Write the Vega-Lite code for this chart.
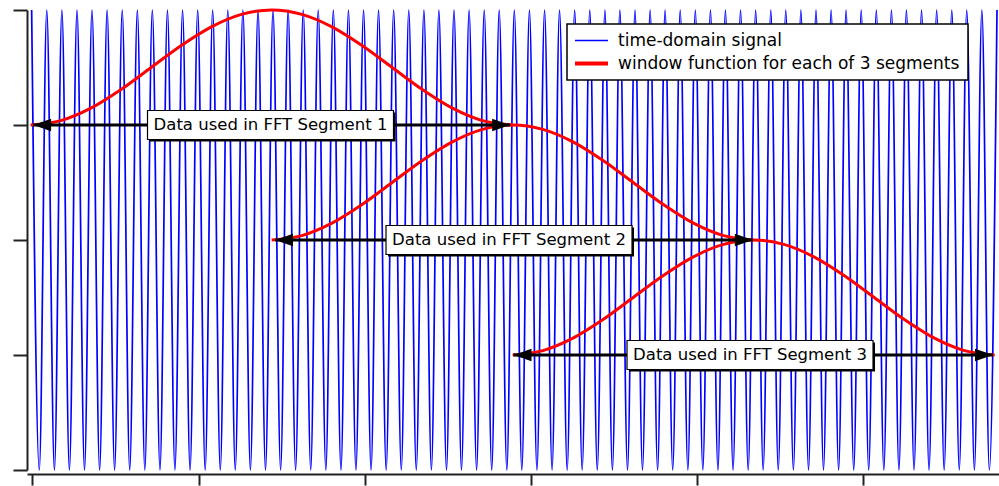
{
"$schema": "https://vega.github.io/schema/vega-lite/v6.json",
"width": 972, "height": 460,
"autosize": {"type": "none"},
"padding": {"left": 27, "top": 10, "right": 0, "bottom": 16},
"background": "white",
"config": {"view": {"stroke": null}, "axis": {"labels": false, "grid": false, "domainColor": "#222", "tickColor": "#222", "domainWidth": 2, "tickWidth": 2, "titlePadding": 0}, "axisX": {"tickSize": 11, "offset": 4}, "axisY": {"tickSize": 14}},
"datasets": {
"signal": [{"x":-0.4,"y":2},{"x":4.2,"y":-2},{"x":8.7,"y":2},{"x":13.3,"y":-2},{"x":17.8,"y":2},{"x":22.3,"y":-2},{"x":26.9,"y":2},{"x":31.4,"y":-2},{"x":35.9,"y":2},{"x":40.5,"y":-2},{"x":45.0,"y":2},{"x":49.5,"y":-2},{"x":54.1,"y":2},{"x":58.6,"y":-2},{"x":63.2,"y":2},{"x":67.7,"y":-2},{"x":72.2,"y":2},{"x":76.8,"y":-2},{"x":81.3,"y":2},{"x":85.8,"y":-2},{"x":90.4,"y":2},{"x":94.9,"y":-2},{"x":99.5,"y":2},{"x":104.0,"y":-2},{"x":108.5,"y":2},{"x":113.1,"y":-2},{"x":117.6,"y":2},{"x":122.1,"y":-2},{"x":126.7,"y":2},{"x":131.2,"y":-2},{"x":135.8,"y":2},{"x":140.3,"y":-2},{"x":144.8,"y":2},{"x":149.4,"y":-2},{"x":153.9,"y":2},{"x":158.4,"y":-2},{"x":163.0,"y":2},{"x":167.5,"y":-2},{"x":172.0,"y":2},{"x":176.6,"y":-2},{"x":181.1,"y":2},{"x":185.7,"y":-2},{"x":190.2,"y":2},{"x":194.7,"y":-2},{"x":199.3,"y":2},{"x":203.8,"y":-2},{"x":208.3,"y":2},{"x":212.9,"y":-2},{"x":217.4,"y":2},{"x":222.0,"y":-2},{"x":226.5,"y":2},{"x":231.0,"y":-2},{"x":235.6,"y":2},{"x":240.1,"y":-2},{"x":244.6,"y":2},{"x":249.2,"y":-2},{"x":253.7,"y":2},{"x":258.2,"y":-2},{"x":262.8,"y":2},{"x":267.3,"y":-2},{"x":271.9,"y":2},{"x":276.4,"y":-2},{"x":280.9,"y":2},{"x":285.5,"y":-2},{"x":290.0,"y":2},{"x":294.5,"y":-2},{"x":299.1,"y":2},{"x":303.6,"y":-2},{"x":308.2,"y":2},{"x":312.7,"y":-2},{"x":317.2,"y":2},{"x":321.8,"y":-2},{"x":326.3,"y":2},{"x":330.8,"y":-2},{"x":335.4,"y":2},{"x":339.9,"y":-2},{"x":344.5,"y":2},{"x":349.0,"y":-2},{"x":353.5,"y":2},{"x":358.1,"y":-2},{"x":362.6,"y":2},{"x":367.1,"y":-2},{"x":371.7,"y":2},{"x":376.2,"y":-2},{"x":380.7,"y":2},{"x":385.3,"y":-2},{"x":389.8,"y":2},{"x":394.4,"y":-2},{"x":398.9,"y":2},{"x":403.4,"y":-2},{"x":408.0,"y":2},{"x":412.5,"y":-2},{"x":417.0,"y":2},{"x":421.6,"y":-2},{"x":426.1,"y":2},{"x":430.7,"y":-2},{"x":435.2,"y":2},{"x":439.7,"y":-2},{"x":444.3,"y":2},{"x":448.8,"y":-2},{"x":453.3,"y":2},{"x":457.9,"y":-2},{"x":462.4,"y":2},{"x":467.0,"y":-2},{"x":471.5,"y":2},{"x":476.0,"y":-2},{"x":480.6,"y":2},{"x":485.1,"y":-2},{"x":489.6,"y":2},{"x":494.2,"y":-2},{"x":498.7,"y":2},{"x":503.2,"y":-2},{"x":507.8,"y":2},{"x":512.3,"y":-2},{"x":516.9,"y":2},{"x":521.4,"y":-2},{"x":525.9,"y":2},{"x":530.5,"y":-2},{"x":535.0,"y":2},{"x":539.5,"y":-2},{"x":544.1,"y":2},{"x":548.6,"y":-2},{"x":553.2,"y":2},{"x":557.7,"y":-2},{"x":562.2,"y":2},{"x":566.8,"y":-2},{"x":571.3,"y":2},{"x":575.8,"y":-2},{"x":580.4,"y":2}],
"windows": [
{"seg":1,"x":-1,"y":1},{"seg":1,"x":17.125,"y":1.0381},{"seg":1,"x":35.25,"y":1.1464},{"seg":1,"x":53.375,"y":1.3087},{"seg":1,"x":71.5,"y":1.5},{"seg":1,"x":89.625,"y":1.6913},{"seg":1,"x":107.75,"y":1.8536},{"seg":1,"x":125.875,"y":1.9619},{"seg":1,"x":144,"y":2},{"seg":1,"x":162.125,"y":1.9619},{"seg":1,"x":180.25,"y":1.8536},{"seg":1,"x":198.375,"y":1.6913},{"seg":1,"x":216.5,"y":1.5},{"seg":1,"x":234.625,"y":1.3087},{"seg":1,"x":252.75,"y":1.1464},{"seg":1,"x":270.875,"y":1.0381},{"seg":1,"x":289,"y":1},
{"seg":2,"x":144,"y":0},{"seg":2,"x":162.125,"y":0.0381},{"seg":2,"x":180.25,"y":0.1464},{"seg":2,"x":198.375,"y":0.3087},{"seg":2,"x":216.5,"y":0.5},{"seg":2,"x":234.625,"y":0.6913},{"seg":2,"x":252.75,"y":0.8536},{"seg":2,"x":270.875,"y":0.9619},{"seg":2,"x":289,"y":1},{"seg":2,"x":307.125,"y":0.9619},{"seg":2,"x":325.25,"y":0.8536},{"seg":2,"x":343.375,"y":0.6913},{"seg":2,"x":361.5,"y":0.5},{"seg":2,"x":379.625,"y":0.3087},{"seg":2,"x":397.75,"y":0.1464},{"seg":2,"x":415.875,"y":0.0381},{"seg":2,"x":434,"y":0},
{"seg":3,"x":289,"y":-1},{"seg":3,"x":307.125,"y":-0.9619},{"seg":3,"x":325.25,"y":-0.8536},{"seg":3,"x":343.375,"y":-0.6913},{"seg":3,"x":361.5,"y":-0.5},{"seg":3,"x":379.625,"y":-0.3087},{"seg":3,"x":397.75,"y":-0.1464},{"seg":3,"x":415.875,"y":-0.0381},{"seg":3,"x":434,"y":0},{"seg":3,"x":452.125,"y":-0.0381},{"seg":3,"x":470.25,"y":-0.1464},{"seg":3,"x":488.375,"y":-0.3087},{"seg":3,"x":506.5,"y":-0.5},{"seg":3,"x":524.625,"y":-0.6913},{"seg":3,"x":542.75,"y":-0.8536},{"seg":3,"x":560.875,"y":-0.9619},{"seg":3,"x":579,"y":-1}
],
"arrows": [
{"seg":1,"start":0.5,"end":287.5,"mid":143.3,"base":1,"label":"Data used in FFT Segment 1"},
{"seg":2,"start":146,"end":433.5,"mid":286.8,"base":0,"label":"Data used in FFT Segment 2"},
{"seg":3,"start":289.5,"end":578,"mid":431.8,"base":-1,"label":"Data used in FFT Segment 3"}
]
},
"layer": [
{"data": {"name": "signal"},
 "mark": {"type": "line", "interpolate": "monotone", "strokeWidth": 1.7},
 "encoding": {
  "x": {"field": "x", "type": "quantitative", "scale": {"domain": [-3.2, 581.6], "nice": false, "zero": false}, "axis": {"values": [0,100,200,300,400,500], "title": null}},
  "y": {"field": "y", "type": "quantitative", "scale": {"domain": [-2, 2], "nice": false, "zero": false}, "axis": {"values": [-2,-1,0,1,2], "title": null}},
  "color": {"datum": "time-domain signal", "type": "nominal",
   "scale": {"domain": ["time-domain signal", "window function for each of 3 segments"], "range": ["#0000ff", "#ff0000"]},
   "legend": {"orient": "none", "legendX": 540, "legendY": 14, "title": null, "fillColor": "white", "strokeColor": "black", "padding": 8, "symbolType": "stroke", "symbolSize": 1089, "symbolOffset": 8, "labelFontSize": 17, "labelFont": "DejaVu Sans", "labelColor": "black", "labelOffset": 18, "rowPadding": 5, "labelLimit": 600,
    "encode": {"symbols": {"update": {"strokeWidth": {"signal": "datum.value === 'time-domain signal' ? 1.5 : 4"}, "opacity": {"value": 1}}}, "legend": {"update": {"strokeWidth": {"value": 1.5}}}}}}
 }},
{"data": {"name": "windows"},
 "mark": {"type": "line", "interpolate": "monotone", "strokeWidth": 3},
 "encoding": {
  "x": {"field": "x", "type": "quantitative", "axis": {"values": [0,100,200,300,400,500], "title": null}},
  "y": {"field": "y", "type": "quantitative", "axis": {"values": [-2,-1,0,1,2], "title": null}},
  "detail": {"field": "seg"},
  "color": {"datum": "window function for each of 3 segments", "type": "nominal"}
 }},
{"data": {"name": "arrows"},
 "mark": {"type": "rule", "strokeWidth": 3, "color": "black"},
 "encoding": {"x": {"field": "start", "type": "quantitative", "title": null}, "x2": {"field": "end"}, "y": {"field": "base", "type": "quantitative", "title": null}}},
{"data": {"name": "arrows"},
 "mark": {"type": "point", "shape": "M0,0L2,-0.7L2,0.7Z", "filled": true, "size": 324, "color": "black", "opacity": 1},
 "encoding": {"x": {"field": "start", "type": "quantitative", "title": null}, "y": {"field": "base", "type": "quantitative", "title": null}}},
{"data": {"name": "arrows"},
 "mark": {"type": "point", "shape": "M0,0L-2,-0.7L-2,0.7Z", "filled": true, "size": 324, "color": "black", "opacity": 1},
 "encoding": {"x": {"field": "end", "type": "quantitative", "title": null}, "y": {"field": "base", "type": "quantitative", "title": null}}},
{"data": {"name": "arrows"},
 "mark": {"type": "rect", "width": 246, "height": 29, "color": "black", "xOffset": 2, "yOffset": 2},
 "encoding": {"x": {"field": "mid", "type": "quantitative", "title": null}, "y": {"field": "base", "type": "quantitative", "title": null}}},
{"data": {"name": "arrows"},
 "mark": {"type": "rect", "width": 246, "height": 29, "fill": "white", "stroke": "black", "strokeWidth": 1.2},
 "encoding": {"x": {"field": "mid", "type": "quantitative", "title": null}, "y": {"field": "base", "type": "quantitative", "title": null}}},
{"data": {"name": "arrows"},
 "mark": {"type": "text", "font": "DejaVu Sans", "fontSize": 16.5, "color": "black", "align": "center", "baseline": "middle"},
 "encoding": {"x": {"field": "mid", "type": "quantitative", "title": null}, "y": {"field": "base", "type": "quantitative", "title": null}, "text": {"field": "label"}}}
]
}
